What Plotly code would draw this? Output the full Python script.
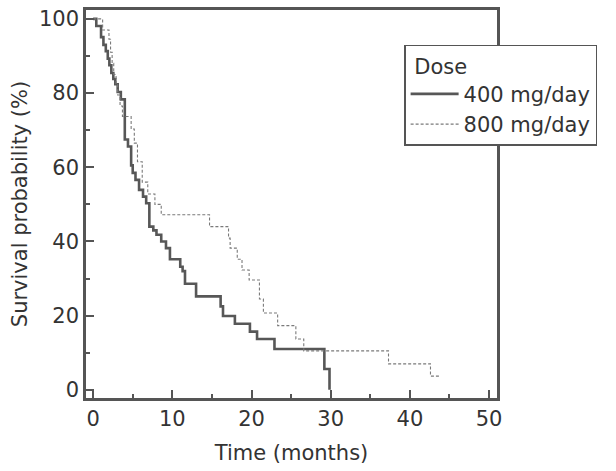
import plotly.graph_objects as go

# 400 mg/day (Kaplan-Meier step points: time in months, survival %)
t_400 = [0, 0.4, 1.0, 1.3, 1.6, 1.85, 2.05, 2.3, 2.55, 2.8, 3.1, 3.5, 4.0, 4.4, 4.8, 5.0,
         5.35, 5.8, 6.3, 6.7, 7.1, 7.6, 8.0, 8.6, 9.2, 9.7, 11.0, 11.3, 11.6, 13.0,
         16.1, 16.4, 17.9, 19.8, 20.7, 22.9, 29.2, 29.85]
s_400 = [100, 98.1, 95.1, 93.0, 91.3, 89.3, 87.5, 85.4, 83.8, 82.4, 80.3, 78.3, 67.5, 65.6,
         60.5, 58.5, 56.6, 53.9, 52.1, 50.3, 44.0, 43.0, 41.8, 40.0, 38.2, 35.2, 33.2, 32.0,
         28.6, 25.2, 22.5, 19.9, 17.8, 15.7, 13.7, 11.0, 5.6, 0]

# 800 mg/day
t_800 = [0, 1.2, 2.0, 2.2, 2.4, 2.6, 2.9, 3.1, 3.4, 3.7, 4.8, 5.2, 5.6, 6.2, 6.9, 7.8,
         8.6, 14.7, 17.1, 17.3, 18.2, 18.8, 19.7, 21.0, 21.5, 23.3, 25.6, 26.6, 37.3,
         42.6, 43.9]
s_800 = [100, 97.0, 94.5, 91.0, 88.0, 85.0, 82.5, 79.5, 76.5, 73.7, 70.3, 66.5, 61.5,
         56.0, 52.8, 50.0, 47.2, 44.0, 40.9, 38.2, 35.2, 32.3, 29.6, 24.5, 20.7, 17.3,
         13.7, 10.5, 7.0, 3.7, 3.7]

x_ticks = [0, 10, 20, 30, 40, 50]
y_ticks = [0, 20, 40, 60, 80, 100]

FONT = "DejaVu Sans, Arial, sans-serif"
AX = "#555555"
TXT = "#333333"

fig = go.Figure()
fig.add_trace(go.Scatter(x=t_400, y=s_400, mode="lines", line_shape="hv",
                         name="400 mg/day", line=dict(color="#575757", width=2.6)))
fig.add_trace(go.Scatter(x=t_800, y=s_800, mode="lines", line_shape="hv",
                         name="800 mg/day", line=dict(color="#7a7a7a", width=1.1, dash="3px,2px")))

axis_common = dict(showline=True, linewidth=2.5, linecolor=AX, mirror=True,
                   ticks="inside", ticklen=8, tickwidth=2, tickcolor=AX,
                   showgrid=False, zeroline=False,
                   tickfont=dict(family=FONT, size=21, color=TXT))

fig.update_xaxes(range=[-0.9, 51.0], tickvals=x_ticks,
                 minor=dict(ticks="inside", ticklen=4, tickwidth=1.5, tickcolor=AX, dtick=5, tick0=5),
                 title=dict(text="Time (months)", font=dict(family=FONT, size=21, color=TXT), standoff=16),
                 **axis_common)
fig.update_yaxes(range=[-2.2, 102.4], tickvals=y_ticks,
                 minor=dict(ticks="inside", ticklen=4, tickwidth=1.5, tickcolor=AX, dtick=10, tick0=10),
                 title=dict(text="Survival probability (%)", font=dict(family=FONT, size=21, color=TXT), standoff=6),
                 **axis_common)

fig.update_layout(
    width=616, height=471,
    margin=dict(l=86, r=119, t=10, b=73, autoexpand=False),
    plot_bgcolor="white", paper_bgcolor="white",
    font=dict(family=FONT, size=21, color=TXT),
    legend=dict(x=0.774, y=0.91, xanchor="left", yanchor="top",
                title=dict(text="&nbsp;Dose", font=dict(family=FONT, size=21, color=TXT)),
                bgcolor="white", bordercolor=AX, borderwidth=1.5,
                font=dict(family=FONT, size=21, color=TXT),
                tracegroupgap=0, itemwidth=48),
)

fig.write_html("out.html", config={"displayModeBar": False},
               post_script="document.body.style.margin='0';document.body.style.padding='0';")
